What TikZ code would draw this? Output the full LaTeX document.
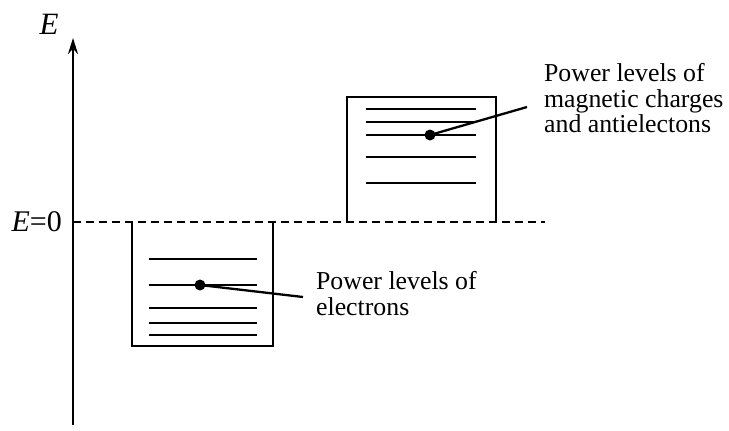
\documentclass[tikz,border=0pt]{standalone}
\usepackage{fontspec}
\setmainfont{Liberation Serif}
\usetikzlibrary{positioning,arrows.meta}

\begin{document}
\begin{tikzpicture}[x=0.5pt,y=-0.5pt,line width=1.15pt,
  zero/.style={dash pattern=on 4pt off 2.5pt},
  dot/.style={circle,fill,inner sep=0pt,minimum size=5.5pt},
  note/.style={align=left,inner sep=0pt,anchor=north west,
    font=\fontsize{12.9}{12.6}\selectfont}]
\useasboundingbox (0,0) rectangle (729,430);

% energy axis
\coordinate(b)		at (73,425);
\coordinate(t)		at (73,38);
\draw[-{Stealth[length=8pt,width=5pt]}] (b) -- (t);
\node(E)		at (49,24)
{\fontsize{15.5}{15.5}\selectfont\textit{E}};
\node(E0)		[anchor=east, inner sep=0pt] at (63,222)
{\fontsize{15}{15}\selectfont\textit{E}=0};
\draw[zero] (73,222) -- (545,222);

% lower well
\draw (132,222) |- (273,346) -- (273,222);
\foreach \y in {259,285,308,323,335}
  \draw (149,\y) -- (257,\y);

% upper well
\draw (347,222) |- (496,97) -- (496,222);
\foreach \y in {109,122,135,157,183}
  \draw (366,\y) -- (476,\y);

% labels
\node(1)		[dot] at (200,285) {};
\node(2)		[dot] at (430,135) {};
\node(11)		[note] at (315,270.5)
{Power levels of\\electrons};
\node(21)		[note] at (543,62.5)
{Power levels of\\magnetic charges\\and antielectons};
\coordinate(12)		at (303,297);
\coordinate(22)		at (527,107);

\draw(1.center) -- (12);
\draw(2.center) -- (22);
\end{tikzpicture}
\end{document}
